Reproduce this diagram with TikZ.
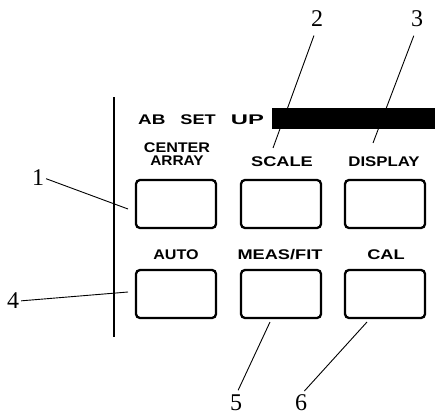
\documentclass[tikz,border=0pt]{standalone}
\usepackage{fontspec}
\setmainfont{Liberation Serif}
\newfontfamily\panelfont{Liberation Sans}
\usetikzlibrary{calc, positioning}
\tikzset{>=stealth, font=\fontsize{24}{26}\selectfont}

\begin{document}
\begin{tikzpicture}[
x=1pt, y=-1pt,
mybutton/.style={
  draw,
  line width=2.3pt,
  rounded corners=4pt,
  minimum width=80pt,
  minimum height=48pt,
  inner sep=0pt
  },
mykey/.style={
  font=\panelfont\bfseries\fontsize{14}{12.5}\selectfont,
  align=center,
  inner sep=0pt
  },
mynum/.style={
  inner sep=0pt
  },
arr/.style={
  line width=0.9pt,
  #1
  }
]
\useasboundingbox (0,0) rectangle (435,417);

%the panel frame
\draw[line width=1.8pt] (114,97) -- (114,337);
\fill (272,108) rectangle (435,129);
\node[mykey] (title) at (201,120) {\scalebox{1.35}[1]{AB}\hspace{15pt}\scalebox{1.3}[1]{SET}\hspace{15pt}\scalebox{1.7}[1]{UP}};

%the keys
\node[mybutton] (center) at (176,204) {};
\node[mybutton] (scale) at (281,204) {};
\node[mybutton] (display) at (385,204) {};
\node[mybutton] (auto) at (176,294) {};
\node[mybutton] (meas) at (281,294) {};
\node[mybutton] (cal) at (385,294) {};

%the key labels
\node[mykey] (tcenter) at (177,154) {\scalebox{1.15}[1]{CENTER}\\\scalebox{1.1}[1]{ARRAY}};
\node[mykey] (tscale) at (282,162) {\scalebox{1.3}[1]{SCALE}};
\node[mykey] (tdisplay) at (384,162) {\scalebox{1.2}[1]{DISPLAY}};
\node[mykey] (tauto) at (176,255) {\scalebox{1.15}[1]{AUTO}};
\node[mykey] (tmeas) at (280,255) {\scalebox{1.3}[1]{MEAS/FIT}};
\node[mykey] (tcal) at (386,255) {\scalebox{1.3}[1]{CAL}};

%the callouts
\node[mynum] (n1) at (38,178) {1};
\node[mynum] (n2) at (317,19) {2};
\node[mynum] (n3) at (417,19) {3};
\node[mynum] (n4) at (13,301) {4};
\node[mynum] (n5) at (236,403) {5};
\node[mynum] (n6) at (301,403) {6};

\coordinate (p1) at (128,209);
\coordinate (p2) at (273,148);
\coordinate (p3) at (373,143);
\coordinate (p4) at (128,292);
\coordinate (p5) at (270,322);
\coordinate (p6) at (367,322);

\draw[arr={shorten <=2pt}] (n1.east) -- (p1);
\draw[arr={shorten <=9pt}] (n2.south) -- (p2);
\draw[arr={shorten <=9pt}] (n3.south) -- (p3);
\draw[arr={shorten <=2pt}] (n4.east) -- (p4);
\draw[arr={shorten <=5pt}] (n5.north) -- (p5);
\draw[arr={shorten <=5pt}] (n6.north) -- (p6);

\end{tikzpicture}
\end{document}
